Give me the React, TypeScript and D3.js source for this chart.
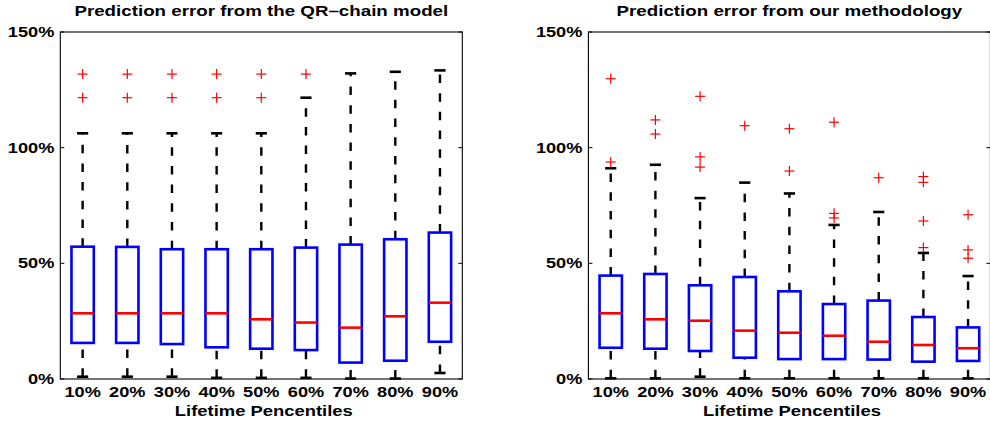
import React from 'react';
import * as d3 from 'd3';

// Lifetime percentile groups shared by both panels
const categories = ['10%', '20%', '30%', '40%', '50%', '60%', '70%', '80%', '90%'];
const yTicks = [0, 50, 100, 150];

// QR-chain model: box statistics (prediction error, %)
const qrLowerWhisker = [1.0, 1.0, 1.0, 0.5, 0.5, 0.5, 0.2, 0.2, 2.6];
const qrQ1 = [15.6, 15.6, 15.1, 13.7, 13.1, 12.5, 7.1, 7.9, 16.1];
const qrMedian = [28.4, 28.4, 28.4, 28.4, 25.8, 24.4, 22.2, 27.1, 33.0];
const qrQ3 = [57.2, 57.1, 56.1, 56.1, 56.1, 56.8, 58.1, 60.4, 63.3];
const qrUpperWhisker = [106.2, 106.2, 106.2, 106.2, 106.2, 121.6, 132.1, 132.8, 133.4];
const qrOutliers = [
  [121.6, 131.8],
  [121.6, 131.8],
  [121.6, 131.8],
  [121.6, 131.8],
  [121.6, 131.8],
  [131.8],
  [],
  [],
  [],
];

// Our methodology: box statistics (prediction error, %)
const oursLowerWhisker = [0.3, 0.3, 1.0, 0.3, 0.3, 0.3, 0.3, 0.3, 0.3];
const oursQ1 = [13.5, 13.1, 12.1, 9.2, 8.6, 8.6, 8.4, 7.5, 7.8];
const oursMedian = [28.4, 25.8, 25.2, 20.9, 20.0, 18.7, 16.1, 14.7, 13.3];
const oursQ3 = [44.7, 45.4, 40.5, 44.1, 37.9, 32.4, 33.9, 26.8, 22.3];
const oursUpperWhisker = [91.1, 92.6, 78.2, 84.9, 80.2, 66.6, 72.2, 54.5, 44.5];
const oursOutliers = [
  [129.8, 93.8],
  [112.0, 105.9],
  [122.2, 96.0, 91.6],
  [109.5],
  [108.2, 89.9],
  [111.0, 71.6, 69.6],
  [87.0],
  [87.5, 85.0, 68.3, 56.8],
  [71.0, 55.8, 52.2],
];

const WIDTH = 990;
const HEIGHT = 426;
const FONT = '"Liberation Sans", Arial, Helvetica, sans-serif';

type Stats = {
  lower: number[];
  q1: number[];
  median: number[];
  q3: number[];
  upper: number[];
  outliers: number[][];
};

type PanelProps = {
  left: number;
  right: number;
  top: number;
  bottom: number;
  title: string;
  stats: Stats;
};

function StretchedText(props: {
  x: number;
  y: number;
  size: number;
  sx: number;
  anchor: 'start' | 'middle' | 'end';
  children: React.ReactNode;
}) {
  const { x, y, size, sx, anchor, children } = props;
  return (
    <text
      transform={`translate(${x},${y}) scale(${sx},1)`}
      fontFamily={FONT}
      fontWeight="bold"
      fontSize={size}
      textAnchor={anchor}
      fill="#000"
    >
      {children}
    </text>
  );
}

function BoxPanel({ left, right, top, bottom, title, stats }: PanelProps) {
  const x = d3.scaleLinear().domain([0.5, categories.length + 0.5]).range([left, right]);
  const y = d3.scaleLinear().domain([0, 150]).range([bottom, top]);
  const unit = x(1) - x(0);
  const boxHalf = unit * 0.25;
  const capHalf = unit * 0.125;
  const cx = (left + right) / 2;
  const dash = '8.5,10.2';
  const plus = 5;

  return (
    <g>
      <StretchedText x={cx} y={16} size={15} sx={1.25} anchor="middle">
        {title}
      </StretchedText>

      {categories.map((c, i) => {
        const px = x(i + 1);
        return (
          <g key={c}>
            {/* upper whisker: drawn from Q3 upwards */}
            <line
              x1={px}
              x2={px}
              y1={y(stats.q3[i])}
              y2={y(stats.upper[i])}
              stroke="#000"
              strokeWidth={2.4}
              strokeDasharray={dash}
            />
            {/* lower whisker: drawn from the lower adjacent value upwards */}
            <line
              x1={px}
              x2={px}
              y1={y(stats.lower[i])}
              y2={y(stats.q1[i])}
              stroke="#000"
              strokeWidth={2.4}
              strokeDasharray={dash}
            />
            <line
              x1={px - capHalf}
              x2={px + capHalf}
              y1={y(stats.upper[i])}
              y2={y(stats.upper[i])}
              stroke="#000"
              strokeWidth={2.6}
            />
            <line
              x1={px - capHalf}
              x2={px + capHalf}
              y1={y(stats.lower[i])}
              y2={y(stats.lower[i])}
              stroke="#000"
              strokeWidth={2.6}
            />
            <rect
              x={px - boxHalf}
              y={y(stats.q3[i])}
              width={boxHalf * 2}
              height={y(stats.q1[i]) - y(stats.q3[i])}
              fill="none"
              stroke="#0000ff"
              strokeWidth={2.6}
            />
            <line
              x1={px - boxHalf}
              x2={px + boxHalf}
              y1={y(stats.median[i])}
              y2={y(stats.median[i])}
              stroke="#ff0000"
              strokeWidth={2.6}
            />
            {stats.outliers[i].map((v, k) => (
              <g key={k} stroke="#ff0000" strokeWidth={1.2}>
                <line x1={px - plus} x2={px + plus} y1={y(v)} y2={y(v)} />
                <line x1={px} x2={px} y1={y(v) - plus} y2={y(v) + plus} />
              </g>
            ))}
            <StretchedText x={px} y={bottom + 18} size={14} sx={1.3} anchor="middle">
              {c}
            </StretchedText>
          </g>
        );
      })}

      {/* axes frame */}
      <rect
        x={left}
        y={top}
        width={right - left}
        height={bottom - top}
        fill="none"
        stroke="#000"
        strokeWidth={1.1}
      />
      {yTicks.map((t) => (
        <g key={t}>
          <line x1={left} x2={left + 4} y1={y(t)} y2={y(t)} stroke="#000" strokeWidth={1} />
          <line x1={right - 4} x2={right} y1={y(t)} y2={y(t)} stroke="#000" strokeWidth={1} />
          <StretchedText x={left - 6} y={y(t) + 5} size={14} sx={1.3} anchor="end">
            {`${t}%`}
          </StretchedText>
        </g>
      ))}
      <StretchedText x={cx + 2.5} y={415.7} size={14.5} sx={1.27} anchor="middle">
        Lifetime Pencentiles
      </StretchedText>
    </g>
  );
}

export default function App() {
  const qr: Stats = {
    lower: qrLowerWhisker,
    q1: qrQ1,
    median: qrMedian,
    q3: qrQ3,
    upper: qrUpperWhisker,
    outliers: qrOutliers,
  };
  const ours: Stats = {
    lower: oursLowerWhisker,
    q1: oursQ1,
    median: oursMedian,
    q3: oursQ3,
    upper: oursUpperWhisker,
    outliers: oursOutliers,
  };
  return (
    <svg
      width={WIDTH}
      height={HEIGHT}
      style={{ position: 'absolute', left: 0, top: 0, background: '#fff' }}
    >
      <rect x={0} y={0} width={WIDTH} height={HEIGHT} fill="#fff" />
      <BoxPanel
        left={60.3}
        right={462.3}
        top={32}
        bottom={379}
        title="Prediction error from the QR–chain model"
        stats={qr}
      />
      <BoxPanel
        left={588.4}
        right={990.4}
        top={32}
        bottom={379}
        title="Prediction error from our methodology"
        stats={ours}
      />
    </svg>
  );
}
